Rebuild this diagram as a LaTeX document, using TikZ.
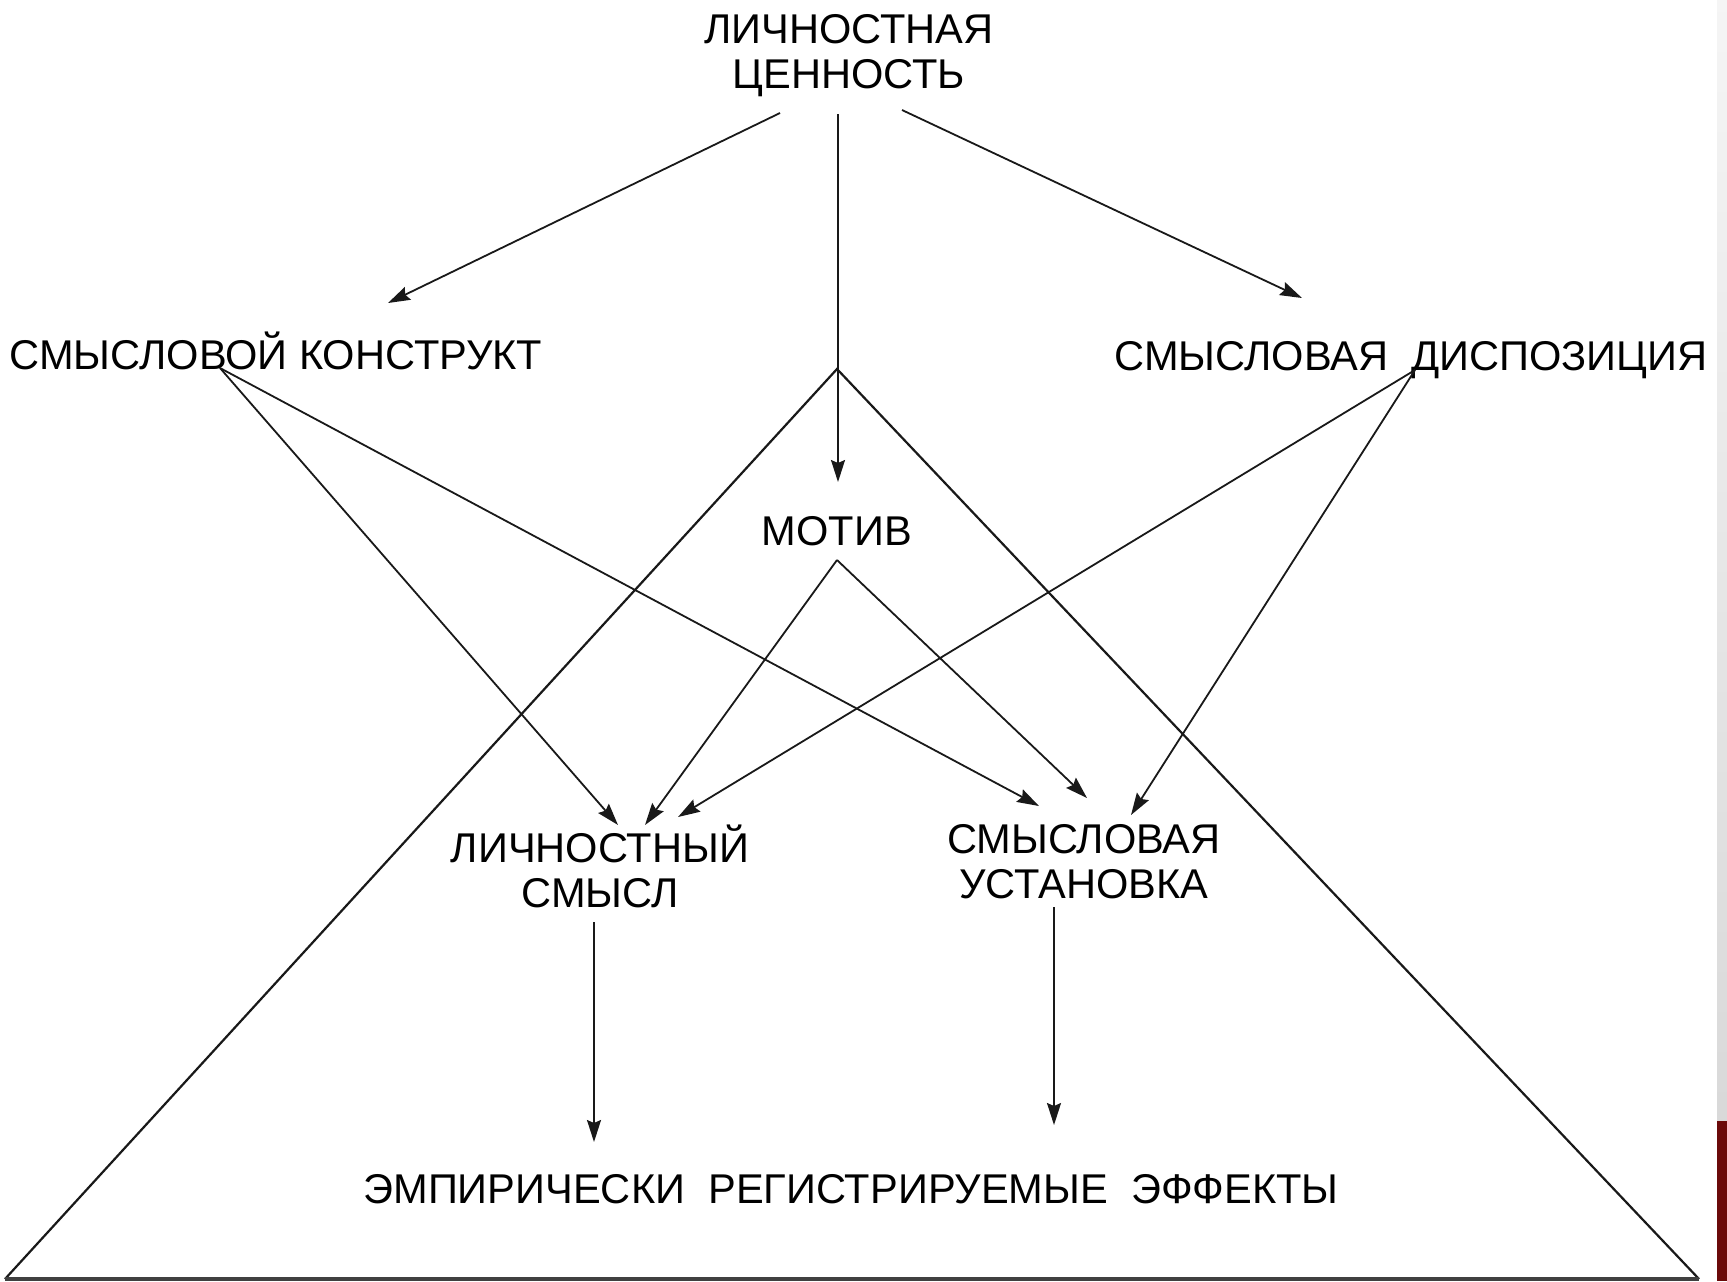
\documentclass[tikz,border=0pt]{standalone}
\usepackage{fontspec}
\setmainfont{Liberation Sans}
\usetikzlibrary{arrows.meta}
\definecolor{barred}{HTML}{6B0A0A}
\tikzset{
  lbl/.style={inner sep=0pt, font=\fontsize{20.8}{22.5}\selectfont, align=center, text=black},
  arr/.style={line width=0.9pt, draw=black!90, -{Stealth[length=11pt,width=7pt,inset=1.5pt]}},
  tri/.style={line width=1.1pt, draw=black!90}
}
\begin{document}
\begin{tikzpicture}[x=0.5pt,y=-0.5pt]
\useasboundingbox (0,0) rectangle (1727,1281);
\fill[white] (0,0) rectangle (1727,1281);
% right edge strip
\shade[top color=gray!8, bottom color=gray!30] (1717,0) rectangle (1727,1121);
\fill[barred] (1717,1121) rectangle (1727,1281);

% triangle
\coordinate (apex) at (837,369);
\coordinate (bl) at (5,1279);
\coordinate (br) at (1699,1279);
\draw[tri] (bl) -- (apex) -- (br);
\draw[line width=1.6pt, draw=black!75] (bl) -- (br);

% nodes
\node[lbl] (top) at (849,56) {ЛИЧНОСТНАЯ\\ЦЕННОСТЬ};
\node[lbl, anchor=base] (konstr) at (276,369) {СМЫСЛОВОЙ КОНСТРУКТ};
\node[lbl, anchor=base] (disp) at (1411,370) {СМЫСЛОВАЯ\ \ ДИСПОЗИЦИЯ};
\node[lbl, anchor=base] (motiv) at (837,545) {МОТИВ};
\node[lbl] (lsm) at (600,866) {ЛИЧНОСТНЫЙ\\СМЫСЛ};
\node[lbl] (ust) at (1084,862) {СМЫСЛОВАЯ\\УСТАНОВКА};
\node[lbl, anchor=base] (eff) at (851,1203) {ЭМПИРИЧЕСКИ\ \ РЕГИСТРИРУЕМЫЕ\ \ ЭФФЕКТЫ};

% connection points
\coordinate (top-l) at (780,113);
\coordinate (top-c) at (838,114);
\coordinate (top-r) at (902,110);
\coordinate (konstr-in) at (388,303);
\coordinate (disp-in) at (1302,298);
\coordinate (motiv-in) at (838,482);
\coordinate (konstr-out) at (220,368);
\coordinate (disp-out) at (1415,370);
\coordinate (motiv-out) at (837,560);
\coordinate (lsm-in1) at (618,825);
\coordinate (lsm-in2) at (645,825);
\coordinate (lsm-in3) at (678,817);
\coordinate (ust-in1) at (1039,806);
\coordinate (ust-in2) at (1087,798);
\coordinate (ust-in3) at (1131,815);
\coordinate (lsm-out) at (594,922);
\coordinate (ust-out) at (1054,907);
\coordinate (eff-in1) at (594,1142);
\coordinate (eff-in2) at (1054,1125);

% connectors
\draw[arr] (top-l) -- (konstr-in);
\draw[arr] (top-c) -- (motiv-in);
\draw[arr] (top-r) -- (disp-in);
\draw[arr] (konstr-out) -- (lsm-in1);
\draw[arr] (konstr-out) -- (ust-in1);
\draw[arr] (motiv-out) -- (lsm-in2);
\draw[arr] (motiv-out) -- (ust-in2);
\draw[arr] (disp-out) -- (lsm-in3);
\draw[arr] (disp-out) -- (ust-in3);
\draw[arr] (lsm-out) -- (eff-in1);
\draw[arr] (ust-out) -- (eff-in2);
\end{tikzpicture}
\end{document}
